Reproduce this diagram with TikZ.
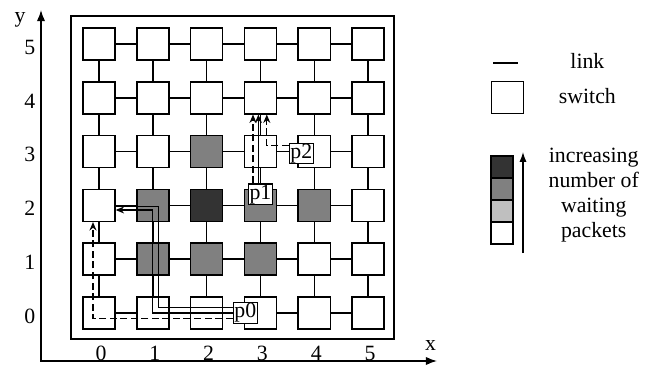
\documentclass[tikz,border=0pt]{standalone}
\usepackage{fontspec}
\setmainfont{Liberation Serif}
\usetikzlibrary{arrows.meta, positioning}

\definecolor{lowload}{gray}{0.75}
\definecolor{midload}{gray}{0.5}
\definecolor{highload}{gray}{0.2}

\begin{document}
\begin{tikzpicture}[font=\fontsize{15.5}{17.8}\selectfont, >={Stealth[length=6pt,width=5pt]}]

% =========================
% Styles
% =========================
\tikzset{
    switch/.style={draw, line width=1pt, fill=#1, minimum size=0.8cm, inner sep=0pt},
    switch/.default=white,
    link/.style={line width=1pt},
    packet/.style={draw, line width=0.9pt, fill=white, minimum width=0.6cm, minimum height=0.5cm, inner sep=0.5pt},
    route/.style={line width=0.85pt},
    waitdash/.style={route, dash pattern=on 5pt off 2.5pt},
    axisline/.style={line width=1pt, >={Latex[length=8pt,width=6pt]}},
    % waiting packets per switch
    load12/.style={fill=midload}, load22/.style={fill=highload},
    load32/.style={fill=midload}, load42/.style={fill=midload},
    load11/.style={fill=midload}, load21/.style={fill=midload},
    load31/.style={fill=midload}, load23/.style={fill=midload}
}

\useasboundingbox (-2.475,-1.35) rectangle (13.975,7.825);

% =========================
% Axes
% =========================
\draw[axisline,<->] (-1.45,7.575) |- (8.45,-1.2);
\node (ylab) at (-1.975,7.325) {y};
\node (xlab) at (8.29,-0.81) {x};
\foreach \n in {0,...,5} {
    \node (col\n) at (\n*1.345+0.05,-1.0) {\n};
    \node (row\n) at (-1.73,\n*1.345-0.08) {\n};
}

% =========================
% Mesh
% =========================
\draw[line width=1pt] (-0.7,-0.65) rectangle (7.375,7.425);

\foreach \i in {0,...,5} {
    \foreach \j in {0,...,5} {
        \node[switch, load\i\j/.try] (s\i\j) at (\i*1.345,\j*1.345) {};
    }
}
\foreach \i in {0,...,5} {
    \foreach \j [count=\k] in {0,...,4} {
        \draw[link] (s\i\j) -- (s\i\k);
        \draw[link] (s\j\i) -- (s\k\i);
    }
}

% =========================
% Packets and their routes
% =========================
\node[packet] (p0) at ([xshift=0.04cm]s30.west) {p0};
\node[packet] (p1) at ([yshift=-0.14cm]s32.north) {p1};
\node[packet] (p2) at ([xshift=0.095cm,yshift=-0.05cm]s43.west) {p2};

\draw[waitdash,->] ([yshift=-0.14cm]p0.west) -| ([xshift=-0.15cm]s02.south);
\draw[route,->] (p0.west) -| ([yshift=-0.115cm]s12.center) -- ([yshift=-0.115cm]s02.east);
\draw[route] ([yshift=0.14cm]p0.west) -| ([xshift=0.14cm,yshift=-0.03cm]s12.center) -- ([yshift=-0.03cm]s02.east);

\draw[waitdash,->] ([xshift=-0.185cm]p1.north) -- ([xshift=-0.185cm]s34.south);
\draw[route,->] ([xshift=-0.05cm]p1.north) -- ([xshift=-0.05cm]s34.south);
\draw[waitdash,->] ([yshift=0.21cm]p2.west) -| ([xshift=0.16cm]s34.south);

% =========================
% Legend
% =========================
\draw[link] (9.85,6.25) -- ++(0.625,0);
\node (keylink) at (12.21,6.3) {link};
\node[switch] (keyswitch) at (10.2125,5.3875) {};
\node (keyswitchtxt) at (12.21,5.4125) {switch};

\foreach \c [count=\k from 0] in {highload, midload, lowload, white} {
    \node[switch=\c, minimum width=0.55cm, minimum height=0.55cm] (bar\k) at (10.075,3.65-\k*0.55) {};
}
\draw[route,->,>={Latex[length=7pt,width=5pt]}] (10.6,1.5) -- (10.6,4.025);
\node[align=center] (keyload) at (12.3675,2.9575) {increasing\\number of\\waiting\\packets};

\end{tikzpicture}
\end{document}
